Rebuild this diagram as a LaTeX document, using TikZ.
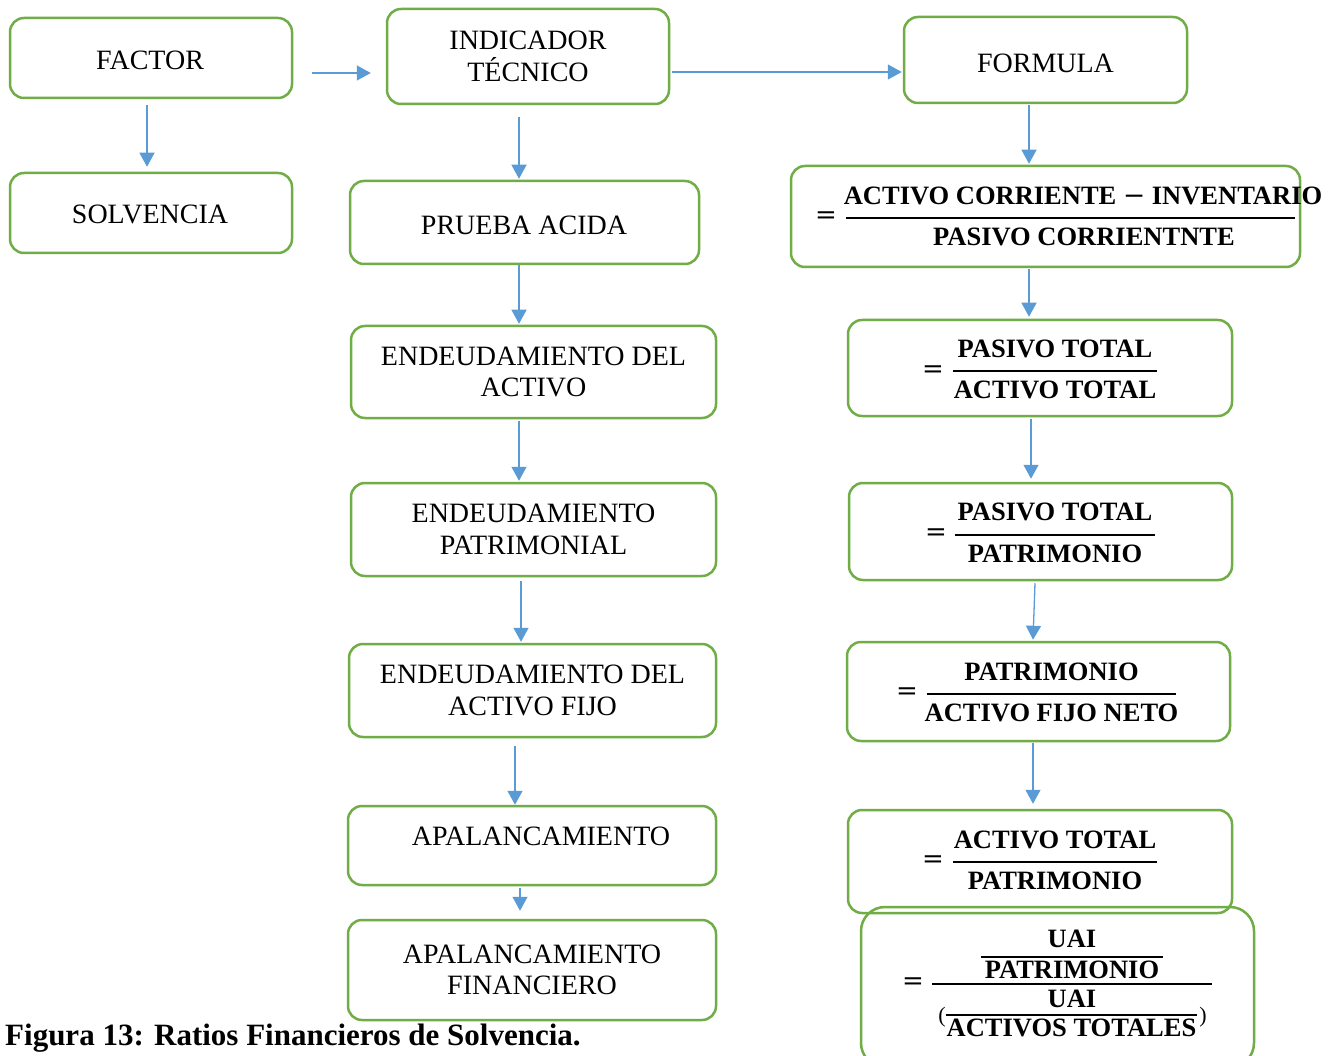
\documentclass[tikz,border=0pt]{standalone}
\usepackage{fontspec}
\setmainfont{Liberation Serif}
\newfontfamily\eqfont{DejaVu Serif}
\usetikzlibrary{arrows.meta,calc}
\definecolor{boxgreen}{HTML}{70AD47}
\definecolor{arrblue}{HTML}{5B9BD5}
\begin{document}
\begin{tikzpicture}[x=1pt,y=-1pt,
  box/.style={draw=boxgreen,line width=2.5pt,rounded corners=14pt,align=center,inner sep=0pt,
    font=\fontsize{28}{31.5}\selectfont},
  txt/.style={align=center,inner sep=0pt,font=\fontsize{28}{31.5}\selectfont},
  fml/.style={inner sep=0pt,font=\fontsize{26.5}{30}\selectfont\bfseries},
  eqs/.style={inner sep=0pt,font=\fontsize{26}{28}\eqfont},
  fbar/.style={line width=2pt,black},
  arr/.style={draw=arrblue,line width=1.3pt,-{Triangle[width=15pt,length=14pt]}}]
\useasboundingbox[fill=white] (0,0) rectangle (1341,1056);

% left column
\node[box,minimum width=282pt,minimum height=80pt] (factor) at (151,58) {};
\node[txt] (factortxt) at (150,60) {FACTOR};
\node[box,minimum width=282pt,minimum height=80pt] (solv) at (151,213) {};
\node[txt] (solvtxt) at (150,214) {SOLVENCIA};
% middle column
\node[box,minimum width=282pt,minimum height=95pt] (ind) at (528,56.5) {INDICADOR\\TÉCNICO};
\node[box,minimum width=349pt,minimum height=83pt] (prueba) at (524.5,222.5) {};
\node[txt] (pruebatxt) at (524,225) {PRUEBA ACIDA};
\node[box,minimum width=365pt,minimum height=92pt] (ea) at (533.5,372) {ENDEUDAMIENTO DEL\\ACTIVO};
\node[box,minimum width=365pt,minimum height=93pt] (ep) at (533.5,529.5) {ENDEUDAMIENTO\\PATRIMONIAL};
\node[box,minimum width=367pt,minimum height=93pt] (eaf) at (532.5,690.5) {ENDEUDAMIENTO DEL\\ACTIVO FIJO};
\node[box,minimum width=368pt,minimum height=79pt] (apal) at (532,845.5) {};
\node[txt] (apaltxt) at (541,836) {APALANCAMIENTO};
\node[box,minimum width=368pt,minimum height=100pt] (apf) at (532,970) {APALANCAMIENTO\\FINANCIERO};
% right column
\node[box,minimum width=283pt,minimum height=86pt] (form) at (1045.5,60) {};
\node[txt] (formtxt) at (1045.5,63) {FORMULA};
\node[box,minimum width=509pt,minimum height=101pt] (f1) at (1045.5,216.5) {};
\node[box,minimum width=384pt,minimum height=96pt] (f2) at (1040,368) {};
\node[box,minimum width=383pt,minimum height=97pt] (f3) at (1040.5,531.5) {};
\node[box,minimum width=383pt,minimum height=99pt] (f4) at (1038.5,691.5) {};
\node[box,minimum width=384pt,minimum height=103pt] (f5) at (1040,861.5) {};
\node[box,rounded corners=24pt,minimum width=393pt,minimum height=160pt] (f6) at (1057.5,987) {};

% formula 1
\node[eqs] (e1) at (826,218) {=};
\node[fml] (n1) at (1083,196) {ACTIVO CORRIENTE {\eqfont\mdseries−} INVENTARIO};
\node[fml] (d1) at (1084,237) {PASIVO CORRIENTNTE};
\draw[fbar] (846,218) -- (1295,218);
% formula 2
\node[eqs] (e2) at (933,372) {=};
\node[fml] (n2) at (1055,349) {PASIVO TOTAL};
\node[fml] (d2) at (1055,390) {ACTIVO TOTAL};
\draw[fbar] (953,371) -- (1157,371);
% formula 3
\node[eqs] (e3) at (936,535) {=};
\node[fml] (n3) at (1055,512) {PASIVO TOTAL};
\node[fml] (d3) at (1055,554) {PATRIMONIO};
\draw[fbar] (955,535) -- (1155,535);
% formula 4
\node[eqs] (e4) at (907,694) {=};
\node[fml] (n4) at (1051.5,672) {PATRIMONIO};
\node[fml] (d4) at (1051.5,713) {ACTIVO FIJO NETO};
\draw[fbar] (927,694) -- (1176,694);
% formula 5
\node[eqs] (e5) at (933,862) {=};
\node[fml] (n5) at (1055,840) {ACTIVO TOTAL};
\node[fml] (d5) at (1055,881) {PATRIMONIO};
\draw[fbar] (953,862) -- (1157,862);
% formula 6
\node[eqs] (e6) at (913,984) {=};
\draw[fbar] (932,984) -- (1212,984);
\node[fml] (n6a) at (1072,939) {UAI};
\draw[fbar] (981,957) -- (1163,957);
\node[fml] (n6b) at (1072,970) {PATRIMONIO};
\node[fml] (d6a) at (1072,999) {UAI};
\draw[fbar] (946,1015) -- (1197,1015);
\node[fml] (d6b) at (1071.5,1028) {ACTIVOS TOTALES};
\node[inner sep=0pt,font=\fontsize{22}{24}\selectfont] (lp) at (942,1017) {(};
\node[inner sep=0pt,font=\fontsize{22}{24}\selectfont] (rp) at (1203,1017) {)};

% caption
\node[anchor=base west,inner sep=0pt,font=\fontsize{31}{34}\selectfont\bfseries] (cap) at (5,1045) {Figura 13: Ratios Financieros de Solvencia.};

% connectors
\draw[arr] ($(factor.east)+(19,15)$) -- ($(ind.west)+(-15,16.5)$);
\draw[arr] ($(ind.east)+(2,15.5)$) -- ($(form.west)+(-1,12)$);
\draw[arr] ($(factor.south)+(-4,6)$) -- ($(solv.north)+(-4,-5)$);
\draw[arr] ($(ind.south)+(-9,12)$) -- ($(prueba.north)+(-5.5,-1)$);
\draw[arr] ($(prueba.south)+(-5.5,0)$) -- ($(ea.north)+(-14.5,-1)$);
\draw[arr] ($(ea.south)+(-14.5,2)$) -- ($(ep.north)+(-14.5,-1)$);
\draw[arr] ($(ep.south)+(-12.5,4)$) -- ($(eaf.north)+(-11.5,-1)$);
\draw[arr] ($(eaf.south)+(-17.5,8)$) -- ($(apal.north)+(-17,0)$);
\draw[arr] ($(apal.south)+(-12,2)$) -- ($(apf.north)+(-12,-8)$);
\draw[arr] ($(form.south)+(-16.5,1)$) -- ($(f1.north)+(-16.5,-1)$);
\draw[arr] ($(f1.south)+(-16.5,1)$) -- ($(f2.north)+(-11,-2)$);
\draw[arr] ($(f2.south)+(-9,2)$) -- ($(f3.north)+(-9.5,-3)$);
\draw[arr] ($(f3.south)+(-5.5,2)$) -- ($(f4.north)+(-5.5,-1)$);
\draw[arr] ($(f4.south)+(-5.5,1)$) -- ($(f5.north)+(-7,-5)$);
\end{tikzpicture}
\end{document}
